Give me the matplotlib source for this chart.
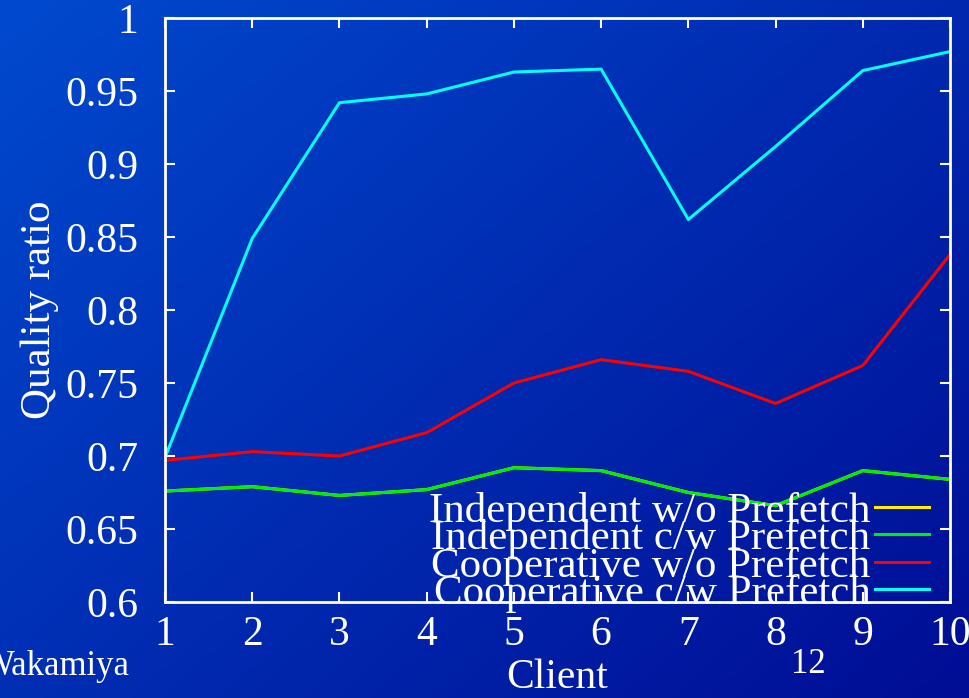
import numpy as np
import matplotlib.pyplot as plt

# data
clients = [1, 2, 3, 4, 5, 6, 7, 8, 9, 10]
indep_wo = [0.676, 0.679, 0.673, 0.677, 0.692, 0.690, 0.675, 0.666, 0.690, 0.684]
indep_cw = [0.676, 0.679, 0.673, 0.677, 0.692, 0.690, 0.675, 0.666, 0.690, 0.684]
coop_wo = [0.697, 0.703, 0.700, 0.716, 0.750, 0.766, 0.758, 0.736, 0.762, 0.838]
coop_cw = [0.699, 0.849, 0.942, 0.948, 0.963, 0.965, 0.862, 0.912, 0.964, 0.977]
yticks = [0.6, 0.65, 0.7, 0.75, 0.8, 0.85, 0.9, 0.95, 1]
ytick_labels = ['0.6', '0.65', '0.7', '0.75', '0.8', '0.85', '0.9', '0.95', '1']

plt.rcParams['font.family'] = ['Liberation Serif', 'DejaVu Serif']

fig = plt.figure(figsize=(9.7, 6.98), dpi=100)

# slide background gradient
bg = fig.add_axes([0, 0, 1, 1], zorder=-10)
h, w = 200, 280
yy, xx = np.mgrid[0:h, 0:w]
t = (xx / w * 0.55 + yy / h * 0.45)
c0 = np.array([0.0, 0.29, 0.81])
c1 = np.array([0.0, 0.05, 0.58])
img = c0[None, None, :] * (1 - t[..., None]) + c1[None, None, :] * t[..., None]
bg.imshow(img, aspect='auto', extent=[0, 1, 0, 1], origin='upper')
bg.set_xlim(0, 1)
bg.set_ylim(0, 1)
bg.axis('off')

ax = fig.add_axes([0.1701, 0.1375, 0.8093, 0.8367])
ax.patch.set_alpha(0)

ax.plot(clients, indep_wo, color='#ffee00', lw=2.2, label='Independent w/o Prefetch')
ax.plot(clients, indep_cw, color='#00ee00', lw=2.2, label='Independent c/w Prefetch')
ax.plot(clients, coop_wo, color='#ff0000', lw=2.2, label='Cooperative w/o Prefetch')
ax.plot(clients, coop_cw, color='#00ffff', lw=2.2, label='Cooperative c/w Prefetch')

ax.set_xlim(1, 10)
ax.set_ylim(0.6, 1)
ax.set_xticks(clients)
ax.set_yticks(yticks)
ax.set_yticklabels(ytick_labels)
ax.tick_params(direction='in', length=7, width=1.5, colors='white',
               labelsize=30, top=True, right=True)
ax.tick_params(axis='y', pad=19)
ax.tick_params(axis='x', pad=10)
for s in ax.spines.values():
    s.set_color('white')
    s.set_linewidth(2)

ax.set_xlabel('Client', color='white', fontsize=30, labelpad=3)
ax.set_ylabel('Quality ratio', color='white', fontsize=31, labelpad=5)

leg = ax.legend(loc='lower right', fontsize=31, frameon=False, markerfirst=False,
                labelspacing=-0.27, handlelength=1.25, handletextpad=0.1,
                borderaxespad=0.0, borderpad=0.0, bbox_to_anchor=(0.973, -0.019))
for txt in leg.get_texts():
    txt.set_color('white')

# slide footer fragments
fig.text(0.134, 0.045, 'Wakamiya', color='white', fontsize=25, ha='right', va='center')
fig.text(0.833, 0.048, '12', color='white', fontsize=25, ha='center', va='center')
fig.text(-0.012, 0.59, 'o', color='white', fontsize=34, rotation=90, ha='center', va='center')

fig.savefig('out.png', dpi=100)
